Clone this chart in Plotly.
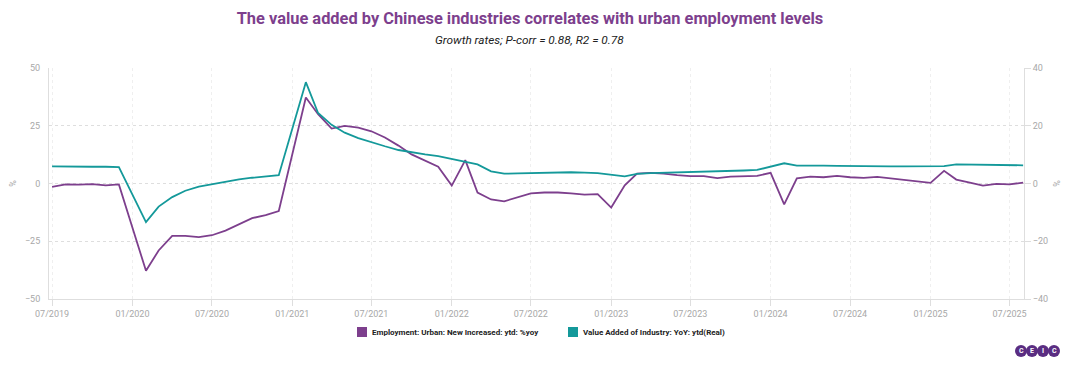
import plotly.graph_objects as go

# ---- data ----
emp_dates = [
    "2019-07-01", "2019-08-01", "2019-09-01", "2019-10-01", "2019-11-01", "2019-12-01",
    "2020-02-01", "2020-03-01", "2020-04-01", "2020-05-01", "2020-06-01", "2020-07-01",
    "2020-08-01", "2020-09-01", "2020-10-01", "2020-11-01", "2020-12-01",
    "2021-02-01", "2021-03-01", "2021-04-01", "2021-05-01", "2021-06-01", "2021-07-01",
    "2021-08-01", "2021-09-01", "2021-10-01", "2021-11-01", "2021-12-01",
    "2022-01-01", "2022-02-01", "2022-03-01", "2022-04-01", "2022-05-01", "2022-06-01",
    "2022-07-01", "2022-08-01", "2022-09-01", "2022-10-01", "2022-11-01", "2022-12-01",
    "2023-01-01", "2023-02-01", "2023-03-01", "2023-04-01", "2023-05-01", "2023-06-01",
    "2023-07-01", "2023-08-01", "2023-09-01", "2023-10-01", "2023-11-01", "2023-12-01",
    "2024-01-01", "2024-02-01", "2024-03-01", "2024-04-01", "2024-05-01", "2024-06-01",
    "2024-07-01", "2024-08-01", "2024-09-01", "2024-10-01", "2024-11-01", "2024-12-01",
    "2025-01-01", "2025-02-01", "2025-03-01", "2025-04-01", "2025-05-01", "2025-06-01",
    "2025-07-01", "2025-08-01",
]
emp_values = [
    -1.5, -0.4, -0.5, -0.3, -0.8, -0.4,
    -37.8, -29.0, -22.7, -22.7, -23.2, -22.4,
    -20.4, -17.8, -15.0, -13.7, -11.9,
    37.2, 30.0, 23.8, 24.9, 24.2, 22.6,
    19.9, 16.4, 12.6, 9.9, 7.3,
    -0.9, 10.1, -3.9, -6.9, -7.7, -6.0,
    -4.3, -3.9, -3.9, -4.3, -4.8, -4.6,
    -10.4, -0.8, 4.3, 4.6, 4.3, 3.6,
    3.2, 3.2, 2.3, 3.0, 3.3, 3.3,
    4.6, -9.0, 2.2, 3.0, 2.7, 3.3,
    2.7, 2.4, 2.9, 2.2, 1.6, 1.1,
    0.3, 5.5, 1.7, 0.4, -0.9, -0.2,
    -0.4, 0.4,
]

va_dates = [
    "2019-07-01", "2019-08-01", "2019-09-01", "2019-10-01", "2019-11-01", "2019-12-01",
    "2020-02-01", "2020-03-01", "2020-04-01", "2020-05-01", "2020-06-01", "2020-07-01",
    "2020-08-01", "2020-09-01", "2020-10-01", "2020-11-01", "2020-12-01",
    "2021-02-01", "2021-03-01", "2021-04-01", "2021-05-01", "2021-06-01", "2021-07-01",
    "2021-08-01", "2021-09-01", "2021-10-01", "2021-11-01", "2021-12-01",
    "2022-02-01", "2022-03-01", "2022-04-01", "2022-05-01", "2022-06-01",
    "2022-07-01", "2022-08-01", "2022-09-01", "2022-10-01", "2022-11-01", "2022-12-01",
    "2023-02-01", "2023-03-01", "2023-04-01", "2023-05-01", "2023-06-01",
    "2023-07-01", "2023-08-01", "2023-09-01", "2023-10-01", "2023-11-01", "2023-12-01",
    "2024-02-01", "2024-03-01", "2024-04-01", "2024-05-01", "2024-06-01",
    "2024-07-01", "2024-08-01", "2024-09-01", "2024-10-01", "2024-11-01", "2024-12-01",
    "2025-02-01", "2025-03-01", "2025-04-01", "2025-05-01", "2025-06-01",
    "2025-07-01", "2025-08-01",
]
va_values = [
    5.9, 5.8, 5.8, 5.8, 5.8, 5.7,
    -13.4, -8.0, -4.7, -2.5, -1.1, -0.2,
    0.6, 1.4, 2.0, 2.4, 2.9,
    35.1, 24.4, 20.3, 17.6, 15.7, 14.2,
    12.9, 11.6, 10.8, 10.1, 9.5,
    7.6, 6.6, 4.2, 3.4, 3.5,
    3.6, 3.7, 3.9, 3.9, 3.8, 3.6,
    2.5, 3.3, 3.6, 3.7, 3.8,
    3.9, 4.0, 4.1, 4.3, 4.5, 4.7,
    7.0, 6.2, 6.3, 6.2, 6.1,
    6.0, 5.9, 5.9, 5.9, 5.9, 5.9,
    6.0, 6.6, 6.5, 6.4, 6.4,
    6.3, 6.3,
]

tick_dates = ["2019-07-01", "2020-01-01", "2020-07-01", "2021-01-01", "2021-07-01",
              "2022-01-01", "2022-07-01", "2023-01-01", "2023-07-01", "2024-01-01",
              "2024-07-01", "2025-01-01", "2025-07-01"]
tick_labels = ["07/2019", "01/2020", "07/2020", "01/2021", "07/2021", "01/2022",
               "07/2022", "01/2023", "07/2023", "01/2024", "07/2024", "01/2025", "07/2025"]

emp_name = "Employment: Urban: New Increased: ytd: %yoy"
va_name = "Value Added of Industry: YoY: ytd(Real)"

PURPLE = "#7d3f8d"
TEAL = "#14999a"
GRID = "#dedede"
AXIS = "#dedede"
TICKFONT = dict(family="Roboto", size=9, color="#a8a8a8")

fig = go.Figure()
fig.add_trace(go.Scatter(x=emp_dates, y=emp_values, mode="lines", name=emp_name,
                         line=dict(color=PURPLE, width=1.8), yaxis="y", showlegend=False))
fig.add_trace(go.Scatter(x=va_dates, y=va_values, mode="lines", name=va_name,
                         line=dict(color=TEAL, width=1.8), yaxis="y2", showlegend=False))

# page body has an 8px margin: figure origin sits at (8, 8) in the window
OFF = 8
W, H = 1054, 349
ml, mt = 49 - OFF, 68 - OFF
mr = (OFF + W) - 1024
mb = (OFF + H) - 299
pw, ph = W - ml - mr, H - mt - mb

def px_x(p):
    return (p - OFF - ml) / pw

def px_y(p):
    return (H - mb - (p - OFF)) / ph

shapes = []
annotations = []

# legend (square swatch + bold label)
legend_items = [(emp_name, PURPLE, 357), (va_name, TEAL, 568)]
for name, color, sx in legend_items:
    shapes.append(dict(type="rect", xref="paper", yref="paper",
                       x0=px_x(sx), x1=px_x(sx + 10), y0=px_y(337), y1=px_y(327),
                       fillcolor=color, line=dict(width=0)))
    annotations.append(dict(x=px_x(sx + 13), y=px_y(332), xref="paper", yref="paper",
                            text="<b>%s</b>" % name, showarrow=False,
                            xanchor="left", yanchor="middle",
                            font=dict(family="Roboto", size=8, color="#222222")))

# logo
logo_letters = ["C", "E", "I", "C"]
logo_cx = [1021, 1032, 1043, 1054]
for cx, letter in zip(logo_cx, logo_letters):
    shapes.append(dict(type="circle", xref="paper", yref="paper",
                       x0=px_x(cx - 6), x1=px_x(cx + 6), y0=px_y(357), y1=px_y(345),
                       fillcolor="#5a2d82", line=dict(width=0)))
    annotations.append(dict(x=px_x(cx), y=px_y(351), xref="paper", yref="paper",
                            text="<b>%s</b>" % letter, showarrow=False,
                            font=dict(family="Roboto", size=7, color="white"),
                            xanchor="center", yanchor="middle"))

annotations.append(dict(x=px_x(529), xref="paper", y=px_y(40), yref="paper",
                        text="<i>Growth rates; P-corr = 0.88, R2 = 0.78</i>",
                        showarrow=False, xanchor="center", yanchor="middle",
                        font=dict(family="Roboto", size=11.8, color="#222222")))

fig.update_layout(
    width=W, height=H,
    margin=dict(l=ml, r=mr, t=mt, b=mb, autoexpand=False),
    paper_bgcolor="white", plot_bgcolor="white",
    showlegend=False,
    title=dict(text="<b>The value added by Chinese industries correlates with urban employment levels</b>",
               x=px_x(530), xanchor="center", xref="paper", y=1 - (18 - OFF) / H, yanchor="middle",
               font=dict(family="Roboto", size=16.4, color=PURPLE)),
    xaxis=dict(type="date", range=["2019-06-24", "2025-08-03"], automargin=False,
               tickvals=tick_dates, ticktext=tick_labels,
               showgrid=True, gridcolor="#efefef", griddash="dot", gridwidth=1,
               showline=True, linecolor=AXIS, linewidth=1,
               ticks="outside", ticklen=6, tickcolor=AXIS,
               tickfont=TICKFONT, zeroline=False),
    yaxis=dict(range=[-50, 50], tickvals=[-50, -25, 0, 25, 50], automargin=False,
               showgrid=True, gridcolor=GRID, griddash="dot", gridwidth=1,
               showline=True, linecolor=AXIS, linewidth=1,
               ticks="outside", ticklen=6, tickcolor="white",
               tickfont=TICKFONT, zeroline=False,
               title=dict(text="%", font=dict(family="Roboto", size=9, color="#a8a8a8"), standoff=12)),
    yaxis2=dict(range=[-40, 40], tickvals=[-40, -20, 0, 20, 40], overlaying="y", side="right",
                automargin=False,
                showgrid=False, showline=True, linecolor=AXIS, linewidth=1,
                ticks="outside", ticklen=6, tickcolor=AXIS,
                tickfont=TICKFONT, zeroline=False,
                title=dict(text="%", font=dict(family="Roboto", size=9, color="#a8a8a8"), standoff=10)),
    shapes=shapes,
    annotations=annotations,
)

fig.write_html("out.html")
